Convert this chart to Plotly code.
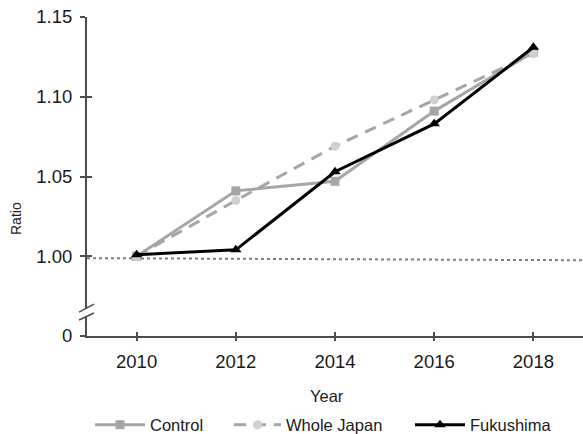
import plotly.graph_objects as go

# Survey years and ratios relative to 2010
years = [2010, 2012, 2014, 2016, 2018]
control = [1.000, 1.041, 1.047, 1.091, 1.128]
whole_japan = [1.000, 1.035, 1.069, 1.098, 1.127]
fukushima = [1.001, 1.004, 1.053, 1.083, 1.131]

# Broken y axis: the bottom tick stands for zero
y_tick_vals = [0.95, 1.00, 1.05, 1.10, 1.15]
y_tick_text = ["0", "1.00", "1.05", "1.10", "1.15"]
x_tick_vals = years
x_tick_text = [str(y) for y in years]

W, H = 583, 434
ML, MR, MT, MB = 87, 0, 17, 98
AXIS = "#4d4d4d"
TEXT = "#1a1a1a"
FONT = "Liberation Sans, Arial, sans-serif"

fig = go.Figure()

fig.add_trace(go.Scatter(
    x=years, y=control, name="Control", mode="lines+markers",
    line=dict(color="#a6a6a6", width=3),
    marker=dict(symbol="square", size=9, color="#a6a6a6"),
    legend="legend",
))
fig.add_trace(go.Scatter(
    x=years, y=whole_japan, name="Whole Japan", mode="lines+markers",
    line=dict(color="#a6a6a6", width=3, dash="12px,8px"),
    marker=dict(symbol="circle", size=9, color="#d0d0d0"),
    legend="legend2",
))
fig.add_trace(go.Scatter(
    x=years, y=fukushima, name="Fukushima", mode="lines+markers",
    line=dict(color="#000000", width=3),
    marker=dict(symbol="triangle-up", size=10, color="#000000"),
    legend="legend3",
))

# invisible helper trace on overlay axes so their inward ticks render
fig.add_trace(go.Scatter(
    x=[years[0]], y=[1.0], xaxis="x2", yaxis="y2", mode="markers",
    marker=dict(opacity=0), showlegend=False, hoverinfo="skip",
))

common_axis = dict(
    showgrid=False, zeroline=False, linecolor=AXIS, linewidth=2,
    tickcolor=AXIS, tickwidth=2,
    tickfont=dict(family=FONT, size=18.5, color=TEXT),
)

fig.update_layout(
    width=W, height=H,
    margin=dict(l=ML, r=MR, t=MT, b=MB, pad=0),
    paper_bgcolor="white", plot_bgcolor="white",
    font=dict(family=FONT, color=TEXT),
    xaxis=dict(
        **common_axis, range=[2009, 2019], showline=True,
        tickmode="array", tickvals=x_tick_vals, ticktext=x_tick_text,
        ticks="outside", ticklen=3, ticklabelstandoff=5,
    ),
    yaxis=dict(
        **common_axis, range=[0.95, 1.15], showline=True,
        tickmode="array", tickvals=y_tick_vals, ticktext=y_tick_text,
        ticks="outside", ticklen=5, ticklabelstandoff=4,
    ),
    xaxis2=dict(
        overlaying="x", range=[2009, 2019], showgrid=False, zeroline=False,
        showline=False, showticklabels=False, tickmode="array",
        tickvals=x_tick_vals, ticks="inside", ticklen=4,
        tickcolor=AXIS, tickwidth=2,
    ),
    yaxis2=dict(
        overlaying="y", range=[0.95, 1.15], showgrid=False, zeroline=False,
        showline=False, showticklabels=False, tickmode="array",
        tickvals=y_tick_vals, ticks="inside", ticklen=5,
        tickcolor=AXIS, tickwidth=2,
    ),
    showlegend=True,
)

# axis titles
fig.add_annotation(text="Year", xref="paper", yref="paper",
                   x=(327 - ML) / (W - ML - MR), y=-(396 - (H - MB)) / (H - MT - MB),
                   showarrow=False, xanchor="center", yanchor="middle",
                   font=dict(family=FONT, size=16.5, color=TEXT))
fig.add_annotation(text="Ratio", xref="paper", yref="paper", textangle=-90,
                   x=-(ML - 16) / (W - ML - MR), y=(H - MB - 219) / (H - MT - MB),
                   showarrow=False, xanchor="center", yanchor="middle",
                   font=dict(family=FONT, size=14, color=TEXT))

legend_base = dict(
    orientation="h", xref="container", yref="container",
    xanchor="left", yanchor="middle", y=1 - 425 / H,
    bgcolor="rgba(0,0,0,0)", borderwidth=0,
    font=dict(family=FONT, size=16.5, color=TEXT),
)
fig.update_layout(
    legend=dict(**legend_base, x=90 / W, itemwidth=50),
    legend2=dict(**legend_base, x=229 / W, itemwidth=47),
    legend3=dict(**legend_base, x=410 / W, itemwidth=50),
)

# reference line at ratio 1.00
fig.add_shape(type="line", xref="paper", yref="y", x0=0, x1=1,
              y0=0.9988, y1=0.9975,
              line=dict(color="#7f7f7f", width=2, dash="dot"), layer="below")

# axis break marks on the y axis
px = 1 / (W - ML - MR)
fig.add_shape(type="rect", xref="paper", yref="y",
              x0=-4 * px, x1=4 * px, y0=0.962, y1=0.9675,
              line=dict(width=0), fillcolor="white", layer="above")
for ya, yb in [(0.965, 0.970), (0.960, 0.9644)]:
    fig.add_shape(type="line", xref="paper", yref="y",
                  x0=-8 * px, x1=7 * px, y0=ya, y1=yb,
                  line=dict(color=AXIS, width=1.5), layer="above")

fig.write_html("out.html")
